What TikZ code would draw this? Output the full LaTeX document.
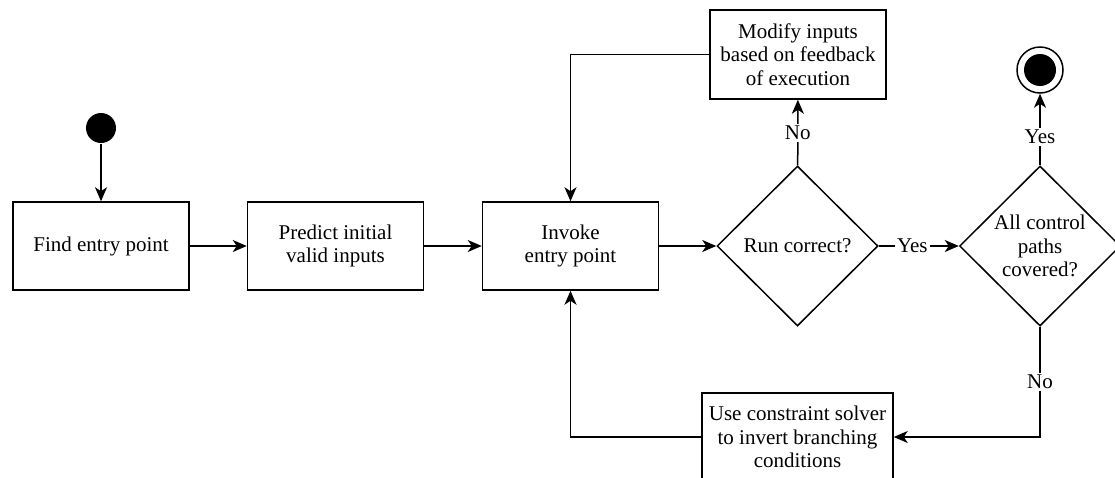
\documentclass[tikz,border=0pt]{standalone}
\usepackage{fontspec}
\setmainfont{Liberation Serif}
\usetikzlibrary{shapes.geometric,arrows.meta}
\begin{document}
\begin{tikzpicture}[x=1pt, y=-1pt, line width=1.5pt,
  font=\fontsize{21}{23.5}\selectfont,
  flowbox/.style={draw, rectangle, align=center, minimum width=176pt, minimum height=88pt, inner sep=2pt},
  choice/.style={draw, diamond, align=center, minimum width=161pt, minimum height=160pt, inner sep=0pt},
  flow/.style={-{Stealth[length=14pt, width=12pt, inset=4pt]}},
  answer/.style={fill=white, inner sep=2pt}]
\useasboundingbox (0,0) rectangle (1115,477);
\clip (0,0) rectangle (1115,477);
\node[circle, fill, minimum size=30pt, inner sep=0pt] (start) at (101,128) {};
\node[flowbox] (find) at (101,246) {Find entry point};
\draw[flow] (start) -- (find);
\node[flowbox] (predict) at (335.5,246) {Predict initial\\valid inputs};
\draw[flow] (find) -- (predict);
\node[flowbox] (invoke) at (570.5,246) {Invoke\\entry point};
\draw[flow] (predict) -- (invoke);
\node[choice] (run) at (797.5,246) {Run correct?};
\draw[flow] (invoke) -- (run);
\node[choice] (covered) at (1040,246) {All control\\paths\\covered?};
\draw[flow] (run) -- (covered) node[pos=0.42, answer] {Yes};
\node[flowbox, minimum height=89pt] (modify) at (798,54.5) {Modify inputs\\based on feedback\\of execution};
\draw[flow] (run) -- (modify) node[midway, answer] {No};
\draw[flow] (modify.west) -| (invoke.north);
\node[circle, draw, minimum size=46pt, inner sep=0pt] (stop) at (1040,70) {};
\fill (stop.center) circle (16pt);
\draw[flow] (covered) -- (stop) node[pos=0.4, answer] {Yes};
\node[flowbox, minimum width=191pt] (solver) at (797.5,437) {Use constraint solver\\to invert branching\\conditions};
\draw[flow] (covered.south) |- (solver.east) node[pos=0.25, answer] {No};
\draw[flow] (solver.west) -| (invoke.south);
\end{tikzpicture}
\end{document}
